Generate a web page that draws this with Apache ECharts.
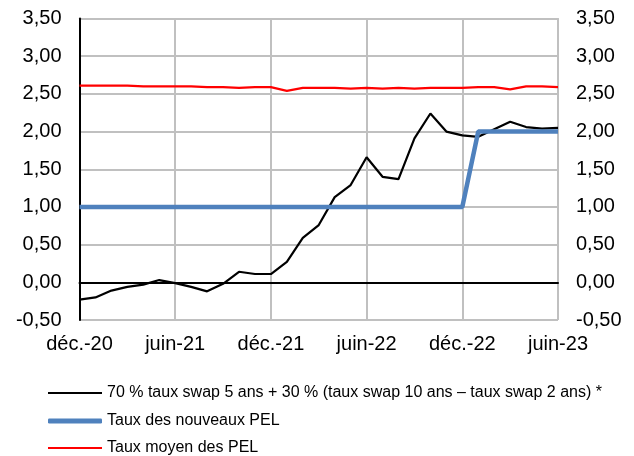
<!DOCTYPE html>
<html><head><meta charset="utf-8">
<script src="https://cdn.jsdelivr.net/npm/echarts@6/dist/echarts.min.js"></script>
<style>html,body{margin:0;padding:0;background:#fff}#c{width:634px;height:456px}</style>
</head><body><div id="c"></div>
<script>
const months = ['déc.-20','janv.-21','févr.-21','mars-21','avr.-21','mai-21','juin-21','juil.-21','août-21','sept.-21','oct.-21','nov.-21',
'déc.-21','janv.-22','févr.-22','mars-22','avr.-22','mai-22','juin-22','juil.-22','août-22','sept.-22','oct.-22','nov.-22',
'déc.-22','janv.-23','févr.-23','mars-23','avr.-23','mai-23','juin-23'];
const swapMix = [-0.23,-0.20,-0.11,-0.06,-0.03,0.03,-0.01,-0.06,-0.12,-0.02,0.14,0.11,
0.11,0.27,0.59,0.76,1.13,1.29,1.66,1.40,1.37,1.91,2.24,2.00,
1.95,1.93,2.03,2.13,2.06,2.04,2.05];
const newPEL = [1,1,1,1,1,1,1,1,1,1,1,1,1,1,1,1,1,1,1,1,1,1,1,1,1,2,2,2,2,2,2];
const avgPEL = [2.61,2.61,2.61,2.61,2.60,2.60,2.60,2.60,2.59,2.59,2.58,2.59,
2.59,2.54,2.58,2.58,2.58,2.57,2.58,2.57,2.58,2.57,2.58,2.58,
2.58,2.59,2.59,2.56,2.60,2.60,2.59];
const seriesNames = ['70 % taux swap 5 ans + 30 % (taux swap 10 ans – taux swap 2 ans) *','Taux des nouveaux PEL','Taux moyen des PEL'];
const yMin = -0.5, yMax = 3.5, yStep = 0.5;

const font = 'Liberation Sans, Arial, sans-serif';
const fmt = v => v.toFixed(2).replace('.', ',');
const yAxisBase = pos => ({
  type:'value', position:pos, min:yMin, max:yMax, interval:yStep,
  axisLine:{show: pos==='left', lineStyle:{color:'#000', width:2}},
  axisTick:{show:false},
  splitLine:{show: pos==='left', lineStyle:{color:'#c0c0c0', width:2}},
  axisLabel:{formatter:fmt, color:'#000', fontSize:20, fontFamily:font, margin:18}
});
const chart = echarts.init(document.getElementById('c'), null, {renderer:'canvas'});
const legendTops = [384, 412, 439];
const legendH = [2, 5, 2.2];
const colors = ['#000000', '#4f81bd', '#ff0000'];
chart.setOption({
  animation:false,
  grid:{left:79.5, right:76, top:18.5, bottom:136, show:true, borderColor:'#222', borderWidth:1, backgroundColor:'transparent'},
  legend: seriesNames.map((n,i)=>({
    data:[{name:n, icon: i===1 ? 'roundRect' : 'rect'}], left:48, top:legendTops[i], padding:0,
    itemWidth:54, itemHeight:legendH[i], itemGap:0,
    itemStyle:{color:colors[i], borderWidth:0},
    textStyle:{color:'#000', fontSize:16, fontFamily:font, lineHeight:18, padding:[0,0,0,0]},
    selectedMode:false
  })),
  xAxis:{
    type:'category', data:months, boundaryGap:false,
    axisLine:{lineStyle:{color:'#000', width:2}},
    axisTick:{show:false},
    axisLabel:{interval:5, color:'#000', fontSize:20, fontFamily:font, margin:14},
    splitLine:{show:true, interval:5, lineStyle:{color:'#c0c0c0', width:2}}
  },
  yAxis:[yAxisBase('left'), yAxisBase('right')],
  series:[
    {name:seriesNames[0], type:'line', data:swapMix, symbol:'none', lineStyle:{color:colors[0], width:2.2}, itemStyle:{color:colors[0]}, z:3},
    {name:seriesNames[1], type:'line', data:newPEL, symbol:'none', lineStyle:{color:colors[1], width:4.5}, itemStyle:{color:colors[1]}, z:4},
    {name:seriesNames[2], type:'line', data:avgPEL, symbol:'none', lineStyle:{color:colors[2], width:2.2}, itemStyle:{color:colors[2]}, z:4}
  ]
});
</script></body></html>
